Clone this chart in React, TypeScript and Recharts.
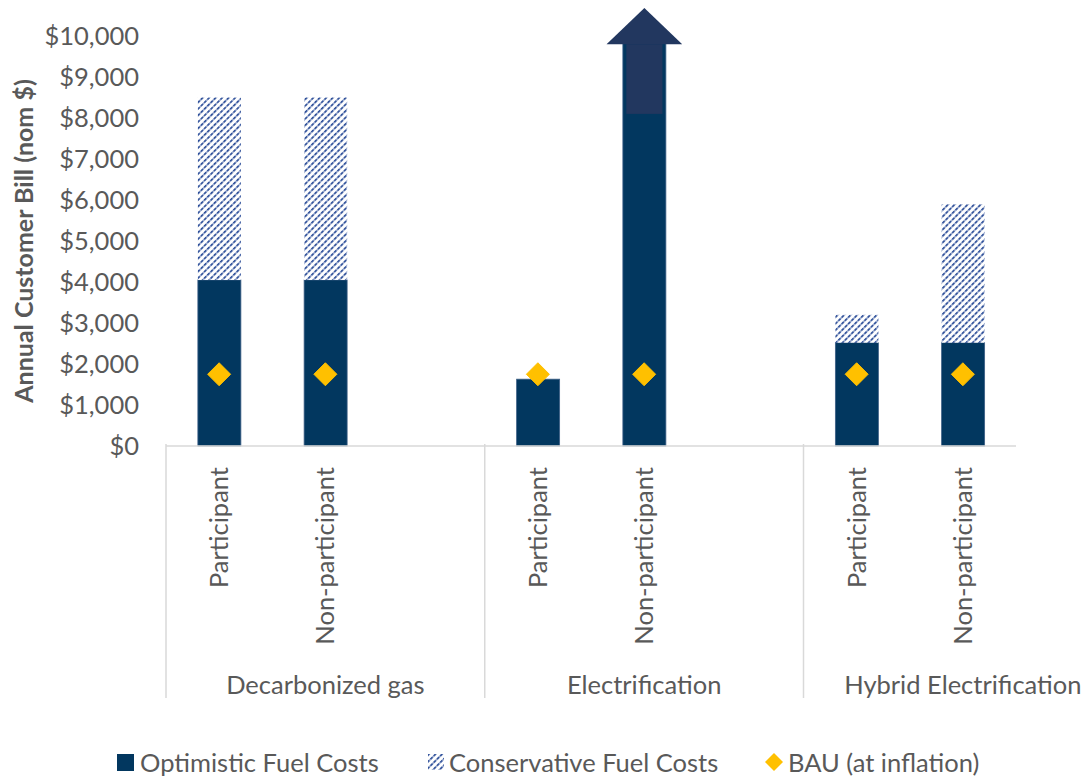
import React from 'react';
import { ComposedChart, Bar, Scatter, XAxis, YAxis, Legend } from 'recharts';

// Slots on the category axis: scenario | customer type (blank slot separates scenarios)
const scenarios = ['Decarbonized gas', 'Decarbonized gas', 'Decarbonized gas', 'Electrification', 'Electrification', 'Electrification', 'Hybrid Electrification', 'Hybrid Electrification'];
const customerTypes = ['Participant', 'Non-participant', '', 'Participant', 'Non-participant', '', 'Participant', 'Non-participant'];

// Annual bill under optimistic fuel costs (Electrification non-participant runs off the scale)
const optimisticCosts = [4050, 4050, null, 1630, 10000, null, 2520, 2520];
// Annual bill under conservative fuel costs (total height)
const conservativeCosts = [8500, 8500, null, null, null, null, 3200, 5900];
// Business-as-usual bill at inflation
const bauCosts = [1750, 1750, null, 1750, 1750, null, 1750, 1750];
// Bars whose value exceeds the axis maximum get an upward arrow
const offScale = [false, false, false, false, true, false, false, false];

const yTicks = [0, 1000, 2000, 3000, 4000, 5000, 6000, 7000, 8000, 9000, 10000];

// Arrow geometry, in dollars along the value axis
const ARROW_SHAFT_FROM = 8100;
const ARROW_HEAD_FROM = 9800;
const ARROW_TIP = 10680;

const NAVY = '#02375F';
const ARROW = '#22375F';
const HATCH = '#2A4C98';
const GOLD = '#FFC000';
const TEXT = '#595959';
const AXIS = '#D9D9D9';
const FONT = "Lato, 'Open Sans', sans-serif";
const FS = 25.5;

const data = customerTypes.map((t, i) => ({
  key: `${scenarios[i]}|${t}|${i}`,
  optimistic: optimisticCosts[i],
  conservativeExtra:
    conservativeCosts[i] != null && optimisticCosts[i] != null ? (conservativeCosts[i] as number) - (optimisticCosts[i] as number) : null,
  bau: bauCosts[i],
  offScale: offScale[i],
}));

const OptimisticShape = (props: any) => {
  const { x, y, width, height, payload } = props;
  if (!height || height <= 0) return null;
  const base = y + height;
  const v = payload.optimistic;
  const rect = <rect x={x} y={y} width={width} height={height} fill={NAVY} stroke="#3D5F86" strokeWidth={0.8} />;
  if (!payload.offScale) return rect;
  const ppu = height / v;
  const cx = x + width / 2;
  const shaftTop = base - ARROW_HEAD_FROM * ppu;
  const shaftBottom = base - ARROW_SHAFT_FROM * ppu;
  const tipY = base - ARROW_TIP * ppu;
  const inset = width * 0.08;
  const headHalf = width * 0.88;
  return (
    <g>
      {rect}
      <rect x={x + inset} y={shaftTop} width={width - inset * 2} height={shaftBottom - shaftTop} fill={ARROW} />
      <polygon points={`${cx - headHalf},${shaftTop} ${cx},${tipY} ${cx + headHalf},${shaftTop}`} fill={ARROW} />
    </g>
  );
};

const ConservativeShape = (props: any) => {
  const { x, y, width, height } = props;
  if (!height || height <= 0) return null;
  return <rect x={x} y={y} width={width} height={height} fill="url(#conservativeHatch)" />;
};

const Diamond = (props: any) => {
  const { cx, cy } = props;
  if (cx == null || cy == null) return null;
  const r = 11.5;
  return <polygon points={`${cx},${cy - r} ${cx + r},${cy} ${cx},${cy + r} ${cx - r},${cy}`} fill={GOLD} stroke={GOLD} strokeWidth={1} strokeLinejoin="round" />;
};

const SEPARATOR_LENGTH = 254; // group separators below the axis

const CategoryTick = (props: any) => {
  const { x, y, payload, index } = props;
  const [scenario, type] = String(payload.value).split('|');
  const half = payload.offset ?? 53.125;
  const top = y;
  const isGroupStart = index === 0 || scenarios[index - 1] !== scenario;
  const isGroupMiddle = index > 0 && scenarios[index - 1] === scenario && customerTypes[index] === 'Non-participant';
  return (
    <g>
      {type && (
        <text
          x={x}
          y={top + 19}
          transform={`rotate(-90, ${x}, ${top + 19})`}
          textAnchor="end"
          dy={9}
          fill={TEXT}
          fontSize={FS}
          fontFamily={FONT}
        >
          {type}
        </text>
      )}
      {isGroupStart && <line x1={x - half} x2={x - half} y1={top - 4} y2={top - 4 + SEPARATOR_LENGTH} stroke={AXIS} strokeWidth={1.5} />}
      {isGroupMiddle && (
        <text x={x} y={top + 246} textAnchor="middle" fill={TEXT} fontSize={FS} fontFamily={FONT}>
          {scenario}
        </text>
      )}
    </g>
  );
};

const YTitle = (props: any) => {
  const { viewBox } = props;
  const cy = viewBox.y + viewBox.height / 2;
  return (
    <text x={33} y={cy} transform={`rotate(-90, 33, ${cy})`} textAnchor="middle" fill={TEXT} fontSize={25} fontWeight={700} fontFamily={FONT}>
      Annual Customer Bill (nom $)
    </text>
  );
};

const legendItem: React.CSSProperties = { position: 'absolute', top: 4, lineHeight: '28px', whiteSpace: 'nowrap' };

const LegendContent = () => (
  <div style={{ position: 'relative', height: 36, width: 1086, fontFamily: FONT, fontSize: FS, color: TEXT }}>
    <svg width={17} height={17} style={{ position: 'absolute', left: 117, top: 10 }}>
      <rect width={17} height={17} fill={NAVY} />
    </svg>
    <span style={{ ...legendItem, left: 140 }}>Optimistic Fuel Costs</span>
    <svg width={16} height={16} style={{ position: 'absolute', left: 428, top: 10 }}>
      <rect width={16} height={16} fill="url(#conservativeHatch)" />
    </svg>
    <span style={{ ...legendItem, left: 449 }}>Conservative Fuel Costs</span>
    <svg width={18} height={18} style={{ position: 'absolute', left: 765, top: 9 }}>
      <polygon points="9,0 18,9 9,18 0,9" fill={GOLD} />
    </svg>
    <span style={{ ...legendItem, left: 788 }}>BAU (at inflation)</span>
  </div>
);

export default function App() {
  return (
    <div style={{ position: 'absolute', left: 0, top: 0, width: 1086, height: 776, background: '#fff' }}>
      <ComposedChart width={1086} height={776} data={data} margin={{ top: 36, right: 70, bottom: 0, left: 0 }} barCategoryGap="30%">
        <defs>
          <pattern id="conservativeHatch" patternUnits="userSpaceOnUse" width={4.6} height={4.6} patternTransform="rotate(45)">
            <rect width={4.6} height={4.6} fill="#fff" />
            <line x1={0} y1={0} x2={0} y2={4.6} stroke={HATCH} strokeWidth={3.4} strokeDasharray="2.2 1" />
          </pattern>
        </defs>
        <XAxis
          dataKey="key"
          type="category"
          height={270}
          interval={0}
          tickLine={false}
          tickSize={0}
          axisLine={{ stroke: AXIS, strokeWidth: 1.5 }}
          tick={<CategoryTick />}
        />
        <YAxis
          width={166}
          domain={[0, 10000]}
          ticks={yTicks}
          axisLine={false}
          tickLine={false}
          tickSize={0}
          tickMargin={27}
          tickFormatter={(v: number) => `$${v.toLocaleString('en-US')}`}
          tick={{ fill: TEXT, fontSize: FS, fontFamily: FONT }}
          label={<YTitle />}
        />
        <Legend verticalAlign="bottom" height={60} content={<LegendContent />} wrapperStyle={{ left: 0, width: 1086, top: 744, bottom: 'auto' }} />
        <Bar dataKey="optimistic" stackId="bill" name="Optimistic Fuel Costs" fill={NAVY} shape={<OptimisticShape />} isAnimationActive={false} />
        <Bar dataKey="conservativeExtra" stackId="bill" name="Conservative Fuel Costs" fill="url(#conservativeHatch)" shape={<ConservativeShape />} isAnimationActive={false} />
        <Scatter dataKey="bau" name="BAU (at inflation)" fill={GOLD} shape={<Diamond />} isAnimationActive={false} />
      </ComposedChart>
    </div>
  );
}
